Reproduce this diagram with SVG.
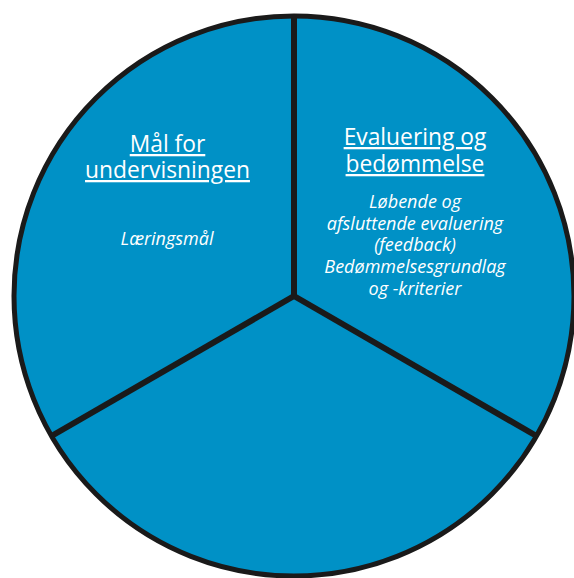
<svg xmlns="http://www.w3.org/2000/svg" width="574" height="578" viewBox="0 0 574 578">
<style>
.sector{fill:#0091c6;stroke:none}
.outline{fill:none;stroke:#1a1a1a;stroke-width:5}
.divider{stroke:#1a1a1a;stroke-width:6;stroke-linecap:butt}
.title{font-family:"Open Sans","Noto Sans",sans-serif;font-size:22.8px;fill:#ffffff;text-anchor:middle;text-decoration:underline}
.body{font-family:"Open Sans","Noto Sans",sans-serif;font-size:18px;font-style:italic;fill:#ffffff;text-anchor:middle}
</style>
<rect width="574" height="578" fill="#ffffff"/>
<g id="sector-maal">
<path class="sector" d="M294,296 L51.51,436 A280,280 0 0 1 294,16 Z"/>
<text class="title" x="167.5" y="152">Mål for</text>
<text class="title" x="167.5" y="178">undervisningen</text>
<text class="body" x="167" y="245">Læringsmål</text>
</g>
<g id="sector-evaluering">
<path class="sector" d="M294,296 L294,16 A280,280 0 0 1 536.49,436 Z"/>
<text class="title" x="415" y="145">Evaluering og</text>
<text class="title" x="415" y="172">bedømmelse</text>
<text class="body" x="415" y="208">Løbende og</text>
<text class="body" x="415" y="230">afsluttende evaluering</text>
<text class="body" x="415" y="251">(feedback)</text>
<text class="body" x="415" y="273">Bedømmelsesgrundlag</text>
<text class="body" x="415" y="295">og -kriterier</text>
</g>
<g id="sector-bottom">
<path class="sector" d="M294,296 L536.49,436 A280,280 0 0 1 51.51,436 Z"/>
</g>
<g id="connectors">
<circle class="outline" cx="294" cy="296" r="280"/>
<line class="divider" x1="294" y1="296" x2="294" y2="16"/>
<line class="divider" x1="294" y1="296" x2="51.51" y2="436"/>
<line class="divider" x1="294" y1="296" x2="536.49" y2="436"/>
</g>
</svg>
